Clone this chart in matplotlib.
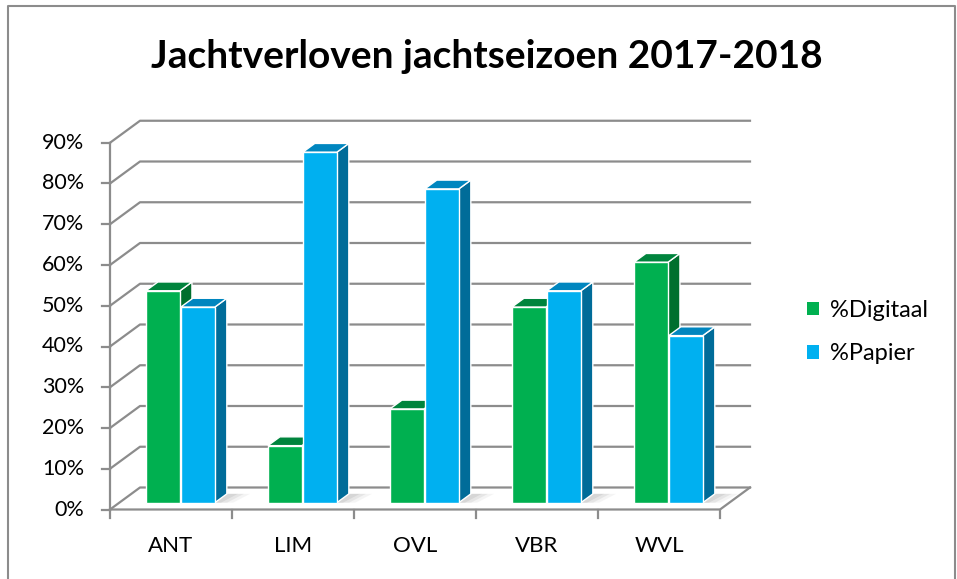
import numpy as np
import matplotlib.pyplot as plt
from matplotlib.patches import Polygon, Patch
from matplotlib.lines import Line2D

plt.rcParams['font.family'] = ['Lato', 'DejaVu Sans']

# data
regions = ['ANT', 'LIM', 'OVL', 'VBR', 'WVL']
digitaal = [0.52, 0.14, 0.23, 0.48, 0.59]
papier = [0.48, 0.86, 0.77, 0.52, 0.41]
series_names = ['%Digitaal', '%Papier']
yticks = [0.0, 0.1, 0.2, 0.3, 0.4, 0.5, 0.6, 0.7, 0.8, 0.9]

green = ('#00B050', '#00843D', '#006F2E')   # front, top, side
blue = ('#00B0F0', '#0086BF', '#006C99')
grid_c = '#8C8C8C'

W, H = 957, 579
fig = plt.figure(figsize=(W / 100, H / 100), dpi=100)

# pixel geometry of the plot box (front-left origin, back wall right edge)
px_x0, px_x1 = 110, 750
px_y0, px_ytop = 509.5, 119
cat_px = 122.0
unit_px = 407.5
ax = fig.add_axes([px_x0 / W, 1 - px_y0 / H, (px_x1 - px_x0) / W, (px_y0 - px_ytop) / H])
ax.set_xlim(0, (px_x1 - px_x0) / cat_px)
ax.set_ylim(0, (px_y0 - px_ytop) / unit_px)
ax.axis('off')

DX = 30 / cat_px   # depth offset (whole floor)
DY = 22 / unit_px
n = len(regions)
kw = dict(clip_on=False)

# walls / gridlines
for v in yticks:
    ax.plot([0, DX, n + DX], [v, v + DY, v + DY], color=grid_c, lw=1.6, zorder=1, **kw)
    ax.plot([-8 / cat_px, 0], [v, v], color=grid_c, lw=1.6, zorder=1, **kw)
    ax.text(-26 / cat_px, v, f'{int(round(v * 100))}%', ha='right', va='center',
            fontsize=15.5, **kw)
ax.plot([0, n, n + DX], [0, 0, DY], color=grid_c, lw=1.6, zorder=1, **kw)
ax.plot([0, 0], [0, yticks[-1]], color=grid_c, lw=1.6, zorder=1, **kw)
for i in range(n + 1):
    ax.plot([i, i], [0, -8 / unit_px], color=grid_c, lw=1.6, zorder=1, **kw)
for i, r in enumerate(regions):
    ax.text(i + 0.5, -37 / unit_px, r, ha='center', va='center', fontsize=16, **kw)

# 3D-looking bars
d0, d1 = 0.31, 0.71
bw = 0.279
offs = [0.218, 0.504]
z = 3
for i in range(n):
    # soft floor shadow
    xr = i + offs[1] + bw + d0 * DX
    for k, a in enumerate([0.35, 0.25, 0.15]):
        w = 0.05 * (k + 1)
        ax.add_patch(Polygon([[xr, d0 * DY], [xr + (d1 - d0) * DX, d1 * DY],
                              [xr + (d1 - d0) * DX + w + 0.04, d1 * DY], [xr + w, d0 * DY]],
                             closed=True, facecolor='#BBBBBB', edgecolor='none', alpha=a,
                             zorder=2, **kw))
    for vals, cols, off in [(digitaal, green, offs[0]), (papier, blue, offs[1])]:
        v = vals[i]
        xl = i + off + d0 * DX
        xr = xl + bw
        b0 = d0 * DY
        ddx = (d1 - d0) * DX
        ddy = (d1 - d0) * DY
        side = [[xr, b0], [xr + ddx, b0 + ddy], [xr + ddx, b0 + ddy + v], [xr, b0 + v]]
        top = [[xl, b0 + v], [xr, b0 + v], [xr + ddx, b0 + ddy + v], [xl + ddx, b0 + ddy + v]]
        ax.add_patch(Polygon(side, closed=True, facecolor=cols[2], edgecolor='white',
                             lw=1, zorder=z, **kw))
        ax.add_patch(Polygon(top, closed=True, facecolor=cols[1], edgecolor='white',
                             lw=1, zorder=z, **kw))
        ax.bar(xl, v, width=bw, bottom=b0, align='edge', color=cols[0],
               edgecolor='white', lw=1, zorder=z + 0.5, **kw)
        z += 1

# legend
handles = [Patch(facecolor=green[0]), Patch(facecolor=blue[0])]
fig.legend(handles, series_names, loc='center left', bbox_to_anchor=(786 / W, 1 - 332 / H),
           frameon=False, fontsize=17, handlelength=0.5, handleheight=0.5,
           handletextpad=0.45, labelspacing=0.95)

# title
fig.text(487 / W, 1 - 57 / H, 'Jachtverloven jachtseizoen 2017-2018', ha='center',
         va='center', fontsize=28, fontweight='bold')

# chart frame (bottom edge is cropped in the original)
fig.add_artist(Line2D([8 / W, 8 / W, 955 / W, 955 / W], [0, 1 - 6 / H, 1 - 6 / H, 0],
                      transform=fig.transFigure, color='#8C8C8C', lw=1.5))

fig.savefig('out.png', dpi=100)
